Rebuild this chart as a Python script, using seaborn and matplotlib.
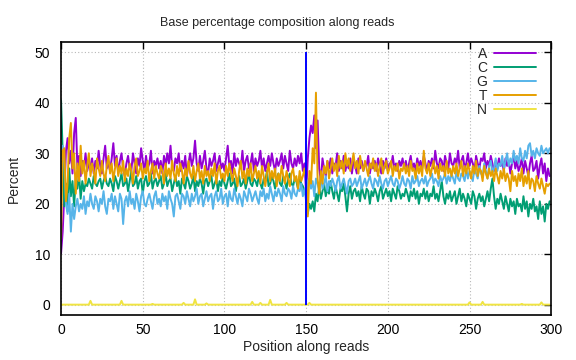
import numpy as np
import pandas as pd
import matplotlib
matplotlib.use("Agg")
import matplotlib.pyplot as plt
import seaborn as sns
from matplotlib.lines import Line2D

bases = ["A", "C", "G", "T", "N"]
colors = ["#9400d3", "#009e73", "#56b4e9", "#e69f00", "#f0e442"]

A = [10.2, 14.5, 22.0, 30.5, 33.0, 28.0, 30.5, 26.0, 34.0, 37.0, 27.0, 29.5, 25.5, 28.5, 27.0, 30.0, 26.5, 28.0, 27.5, 29.0, 26.0, 28.5, 27.0, 30.5, 27.5, 26.0, 29.0, 31.5, 27.0, 28.0,
     26.5, 29.0, 32.0, 27.5, 29.5, 26.0, 28.5, 30.0, 27.0, 25.5, 28.0, 29.5, 27.0, 26.5, 30.0, 28.0, 26.0, 29.0, 27.5, 31.0, 28.5, 26.5, 29.5, 27.0, 28.0, 30.5, 26.0, 28.5, 27.5, 29.0,
     27.0, 28.5, 26.0, 29.5, 27.5, 30.0, 28.0, 31.5, 27.0, 26.5, 29.0, 28.0, 30.0, 26.5, 28.5, 27.0, 29.5, 25.5, 28.0, 30.0, 27.5, 29.0, 32.5, 28.0, 26.5, 29.5, 27.0, 28.5, 30.5, 27.0,
     26.0, 29.0, 27.5, 28.5, 30.0, 26.5, 28.0, 29.5, 27.0, 28.0, 26.5, 29.0, 31.5, 27.5, 28.5, 26.0, 30.0, 27.5, 29.0, 28.0, 27.0, 30.5, 26.5, 28.5, 29.5, 27.0, 28.0, 30.0, 26.5, 29.0,
     27.5, 28.5, 30.5, 27.0, 29.0, 26.5, 28.0, 29.5, 27.5, 30.0, 28.0, 26.5, 29.0, 27.5, 28.5, 30.0, 27.0, 29.5, 28.0, 26.5, 30.5, 28.0, 27.0, 29.0, 27.5, 29.5, 28.0, 30.0, 26.5, 28.0,
     22.0, 29.0, 33.0, 35.5, 34.0, 37.5, 31.0, 36.5, 27.0, 24.5, 29.0, 27.0, 25.5, 28.5, 27.0, 29.0, 26.0, 28.0, 27.5, 30.0, 26.5, 28.5, 27.0, 29.5, 26.5, 28.0, 27.0, 29.0, 26.0, 28.5,
     27.5, 26.0, 29.0, 27.0, 28.5, 26.5, 28.0, 27.5, 29.5, 26.0, 28.0, 27.0, 28.5, 26.5, 29.0, 27.5, 26.0, 28.5, 27.0, 29.0, 26.5, 28.0, 27.5, 29.5, 27.0, 28.0, 26.5, 28.5, 27.5, 29.0,
     27.0, 28.5, 26.5, 28.0, 29.5, 27.0, 28.0, 26.5, 29.0, 27.5, 28.5, 27.0, 29.5, 28.0, 26.5, 28.5, 27.5, 29.0, 27.0, 30.5, 28.0, 27.0, 29.0, 28.5, 26.5, 29.5, 28.0, 27.0, 30.0, 28.0,
     27.5, 29.0, 28.0, 30.5, 27.0, 28.5, 29.5, 27.0, 28.0, 30.0, 27.5, 29.0, 28.0, 26.5, 29.5, 28.0, 27.0, 29.0, 28.5, 30.0, 27.0, 28.5, 27.5, 29.5, 28.0, 26.5, 28.5, 27.0, 29.0, 27.5,
     28.0, 26.5, 29.0, 27.5, 28.5, 26.0, 28.0, 29.5, 27.0, 28.5, 26.5, 27.5, 29.0, 26.0, 28.5, 27.0, 25.5, 28.0, 29.5, 26.5, 27.0, 28.5, 25.0, 27.5, 29.0, 26.0, 28.0, 24.5, 27.0, 25.5]

C = [40.5, 30.0, 19.5, 24.0, 18.5, 27.0, 21.5, 24.5, 19.5, 25.0, 23.0, 26.0, 21.0, 24.5, 22.5, 24.0, 23.5, 25.0, 24.0, 23.0, 25.5, 24.0, 23.5, 24.5, 25.0, 23.0, 24.5, 25.5, 24.0, 23.5,
     25.0, 24.0, 22.5, 25.5, 24.5, 23.0, 24.5, 26.0, 23.5, 24.0, 25.0, 22.5, 24.5, 26.5, 23.5, 24.0, 25.5, 23.0, 24.5, 25.0, 22.0, 24.5, 25.5, 23.5, 24.0, 26.0, 23.0, 24.5, 25.0, 23.5,
     24.5, 25.5, 23.0, 24.0, 26.0, 23.5, 24.5, 25.0, 22.5, 24.0, 25.5, 23.5, 24.5, 22.0, 25.0, 24.0, 23.0, 25.5, 24.5, 23.0, 24.0, 25.5, 22.5, 24.5, 23.5, 25.0, 24.0, 22.0, 24.5, 25.0,
     23.5, 24.5, 25.5, 23.0, 24.0, 25.0, 22.5, 24.5, 23.5, 25.5, 24.0, 23.0, 24.5, 26.0, 23.5, 24.0, 25.0, 22.5, 24.5, 25.5, 23.5, 24.0, 25.0, 23.0, 24.5, 26.0, 24.0, 23.5, 25.0, 24.5,
     23.5, 25.5, 24.0, 23.0, 25.0, 24.5, 26.5, 23.5, 24.0, 25.5, 24.5, 23.0, 25.0, 26.0, 24.0, 23.5, 25.5, 24.5, 23.0, 25.0, 26.0, 24.0, 23.5, 25.0, 24.5, 23.0, 25.5, 24.0, 23.5, 22.5,
     21.5, 18.0, 20.0, 19.0, 20.5, 18.5, 22.0, 20.5, 23.5, 21.0, 22.5, 24.0, 21.5, 23.0, 22.0, 24.5, 22.5, 21.0, 23.5, 22.0, 20.5, 23.0, 22.5, 24.0, 21.5, 18.5, 22.0, 23.5, 21.0, 22.5,
     23.0, 21.5, 22.5, 20.5, 23.5, 22.0, 21.0, 23.0, 22.5, 20.0, 22.5, 21.5, 23.0, 22.0, 20.5, 22.5, 23.5, 21.0, 22.0, 23.0, 21.5, 22.5, 20.5, 23.0, 22.0, 21.0, 23.5, 22.5, 21.0, 22.0,
     21.5, 23.0, 22.0, 20.5, 22.5, 21.5, 23.0, 21.0, 22.5, 20.0, 22.0, 21.5, 23.0, 21.0, 22.5, 20.5, 22.0, 21.5, 23.5, 21.0, 22.0, 20.5, 22.5, 24.5, 21.5, 20.0, 22.0, 21.0, 22.5, 20.5,
     21.5, 22.5, 20.0, 21.5, 23.0, 20.5, 22.0, 21.0, 19.5, 22.0, 21.0, 20.0, 22.5, 21.5, 19.0, 21.0, 22.0, 20.5, 21.5, 19.5, 21.0, 22.5, 20.5, 23.0, 25.0, 21.5, 19.0, 21.0, 20.0, 22.0,
     20.5, 19.0, 21.5, 20.0, 18.5, 21.0, 19.5, 20.5, 18.0, 21.0, 19.5, 20.0, 18.5, 21.5, 19.0, 20.5, 17.5, 20.0, 19.0, 21.0, 18.5, 19.5, 17.0, 20.5, 18.0, 19.5, 16.5, 20.0, 19.0, 20.5]

G = [31.0, 31.5, 28.0, 20.0, 18.0, 22.0, 14.5, 20.0, 17.0, 19.5, 21.0, 18.5, 20.0, 19.0, 21.5, 18.0, 20.5, 19.5, 22.0, 20.0, 19.0, 21.5, 20.5, 18.5, 21.0, 20.0, 22.5, 19.5, 18.0, 21.0,
     20.5, 22.0, 19.0, 21.5, 20.0, 18.5, 22.0, 21.0, 16.0, 20.5, 21.5, 19.5, 22.5, 20.0, 21.0, 19.0, 22.0, 20.5, 18.5, 21.5, 22.5, 20.0, 19.5, 21.0, 22.0, 20.5, 19.0, 21.5, 22.5, 20.0,
     21.0, 19.5, 22.0, 20.5, 21.5, 19.0, 22.5, 21.0, 20.0, 17.5, 21.5, 22.0, 20.5, 19.0, 22.0, 21.5, 20.0, 22.5, 21.0, 19.5, 22.0, 20.5, 21.5, 23.0, 20.0, 21.5, 22.0, 19.5, 21.0, 22.5,
     20.5, 21.5, 22.0, 19.0, 21.5, 22.5, 20.5, 21.0, 23.0, 20.0, 21.5, 22.0, 19.5, 22.5, 21.0, 20.5, 23.0, 21.5, 20.0, 22.0, 21.0, 19.5, 22.5, 21.5, 20.5, 23.0, 22.0, 20.5, 21.5, 22.5,
     21.0, 20.0, 22.5, 21.5, 23.0, 20.5, 22.0, 21.0, 23.5, 22.0, 20.5, 22.5, 21.5, 23.0, 22.0, 20.5, 23.5, 22.0, 21.5, 23.0, 22.5, 21.0, 23.5, 22.0, 21.5, 23.0, 22.5, 24.0, 21.5, 23.0,
     20.5, 24.5, 25.0, 23.0, 24.5, 21.5, 25.0, 24.0, 22.5, 25.5, 23.0, 24.0, 25.5, 22.5, 24.5, 23.5, 25.0, 24.0, 22.5, 24.5, 25.5, 23.0, 24.0, 25.0, 23.5, 22.0, 24.5, 25.0, 23.5, 24.0,
     25.0, 23.5, 24.5, 25.5, 23.0, 24.0, 25.0, 23.5, 24.5, 25.5, 24.0, 23.0, 25.0, 24.5, 23.5, 25.5, 24.0, 23.0, 24.5, 25.0, 23.5, 24.5, 25.5, 24.0, 23.5, 25.0, 24.5, 23.0, 24.0, 25.5,
     24.0, 23.5, 25.0, 24.5, 23.0, 25.5, 24.0, 24.5, 25.5, 23.5, 24.5, 25.0, 24.0, 25.5, 23.5, 24.5, 25.0, 26.0, 24.0, 25.0, 24.5, 23.5, 25.5, 24.5, 25.0, 26.0, 24.0, 25.5, 24.5, 26.0,
     25.0, 24.0, 26.5, 25.0, 24.5, 26.0, 25.5, 24.5, 27.0, 25.0, 26.5, 25.5, 24.5, 27.0, 26.0, 25.0, 27.5, 26.0, 25.5, 28.0, 26.5, 25.0, 27.5, 28.5, 26.0, 27.0, 29.0, 26.5, 28.0, 27.5,
     29.5, 27.0, 28.5, 30.0, 27.5, 29.0, 28.0, 30.5, 28.5, 29.5, 28.0, 31.0, 29.0, 28.5, 30.5, 29.0, 31.5, 32.0, 29.5, 30.5, 29.0, 31.0, 30.0, 29.5, 31.5, 30.0, 30.5, 31.0, 30.0, 31.0]

T = [13.0, 30.5, 31.0, 20.5, 24.0, 33.0, 36.0, 27.0, 30.0, 22.0, 28.0, 24.5, 31.5, 26.0, 28.5, 24.0, 27.5, 30.0, 25.5, 28.0, 26.5, 24.0, 29.0, 27.0, 25.5, 28.5, 26.0, 24.5, 27.5, 29.5,
     26.0, 28.0, 24.5, 27.0, 29.0, 25.5, 27.5, 26.0, 28.5, 24.5, 27.0, 25.5, 28.0, 26.5, 24.0, 27.5, 29.0, 25.5, 26.5, 28.0, 25.0, 27.0, 26.0, 28.5, 24.5, 26.5, 28.0, 25.0, 27.5, 26.0,
     25.0, 27.5, 26.5, 24.0, 28.0, 25.5, 27.0, 25.0, 28.5, 26.0, 24.5, 27.5, 25.5, 28.0, 26.5, 24.0, 27.0, 25.5, 28.5, 26.0, 25.0, 27.5, 24.5, 26.5, 28.0, 25.0, 26.5, 24.0, 27.5, 25.5,
     26.5, 24.5, 27.0, 25.5, 28.0, 24.0, 26.5, 27.5, 25.0, 26.0, 24.5, 27.5, 25.5, 28.0, 26.0, 24.5, 27.0, 25.5, 23.5, 26.5, 28.5, 25.0, 26.5, 24.0, 27.0, 25.5, 28.0, 24.5, 26.0, 27.5,
     25.0, 26.5, 24.0, 27.5, 25.5, 23.5, 26.0, 28.0, 24.5, 26.5, 25.0, 27.0, 23.5, 26.0, 24.5, 27.5, 25.5, 24.0, 26.5, 25.0, 23.5, 26.0, 27.0, 24.5, 25.5, 23.0, 26.5, 24.5, 25.5, 27.0,
     25.0, 17.5, 26.5, 24.0, 31.0, 28.0, 42.0, 25.0, 22.0, 26.5, 24.0, 27.5, 26.0, 28.5, 25.0, 27.0, 29.0, 26.5, 28.0, 25.5, 29.5, 27.0, 28.5, 26.0, 30.0, 27.5, 29.0, 26.5, 28.0, 30.0,
     27.0, 28.5, 26.0, 29.5, 27.5, 26.5, 28.5, 27.0, 25.5, 28.0, 27.0, 29.0, 26.5, 28.0, 25.5, 27.5, 29.0, 26.0, 27.5, 28.5, 26.0, 27.0, 28.5, 25.5, 27.5, 26.5, 28.0, 25.0, 27.0, 26.5,
     28.0, 26.0, 27.5, 25.5, 28.5, 26.5, 27.0, 25.0, 28.0, 26.0, 27.5, 25.5, 30.5, 27.0, 26.0, 28.0, 25.5, 27.0, 28.5, 26.0, 27.5, 25.0, 28.0, 26.5, 27.5, 25.5, 28.5, 26.0, 27.0, 25.5,
     27.5, 26.0, 28.0, 25.5, 27.0, 28.5, 25.5, 27.5, 26.0, 28.0, 26.5, 25.0, 27.5, 26.0, 28.5, 25.5, 27.0, 26.5, 24.5, 27.5, 26.0, 25.0, 27.0, 25.5, 26.5, 24.5, 27.0, 25.5, 24.0, 26.5,
     25.0, 27.0, 24.5, 26.0, 25.0, 22.5, 26.5, 24.5, 25.5, 23.5, 26.0, 24.5, 27.0, 23.5, 25.5, 24.0, 26.5, 23.0, 25.0, 24.5, 22.5, 25.5, 24.0, 23.0, 25.0, 23.5, 22.0, 24.0, 23.5, 24.0]

# N: near zero with a few small spikes (position -> percent)
N_spike_pos = [18, 37, 56, 75, 82, 89, 117, 122, 128, 138, 152, 250, 258, 282, 294]
N_spike_val = [0.8, 0.8, 0.2, 0.4, 1.1, 0.3, 0.6, 0.4, 1.0, 0.4, 0.4, 0.5, 0.6, 0.2, 0.5]
N_base = 0.05

positions = list(range(len(A)))
N = [N_base] * len(A)
for p, v in zip(N_spike_pos, N_spike_val):
    N[p] = v

marker_x = 150
marker_ymin, marker_ymax = 0, 50

rows = []
for b, vals in zip(bases, [A, C, G, T, N]):
    for p, v in zip(positions, vals):
        rows.append({"pos": p, "pct": v, "base": b})
df = pd.DataFrame(rows)

sns.set_style("white")
plt.rcParams["font.family"] = ["Liberation Sans", "DejaVu Sans"]
plt.rcParams["font.size"] = 10

fig = plt.figure(figsize=(5.76, 3.6), dpi=100)
ax = fig.add_axes([0.106, 0.125, 0.851, 0.758])

sns.lineplot(data=df, x="pos", y="pct", hue="base", hue_order=bases,
             palette=dict(zip(bases, colors)), linewidth=1.4, ax=ax,
             legend=False, estimator=None, sort=False)
ax.vlines(marker_x, marker_ymin, marker_ymax, color="#0000ff", linewidth=1.4, zorder=3)

ax.set_xlim(0, 300)
ax.set_ylim(-2, 52)
ax.set_xticks(range(0, 301, 50))
ax.set_yticks(range(0, 51, 10))
ax.grid(True, color="#b8b8b8", linestyle=(0, (1, 2)), linewidth=0.8)
ax.tick_params(direction="in", length=5, width=1, top=True, right=True,
               labelsize=10, colors="black")
ax.tick_params(axis="y", pad=8)
ax.tick_params(axis="x", pad=6)
for s in ax.spines.values():
    s.set_color("black")
    s.set_linewidth(1.2)
ax.set_xlabel("Position along reads", fontsize=10, labelpad=2)
ax.set_ylabel("Percent", fontsize=10, labelpad=10)
fig.text(0.482, 0.935, "Base percentage composition along reads", fontsize=9,
         ha="center", va="center")

handles = [Line2D([0], [0], color=c, lw=1.4) for c in colors]
leg = ax.legend(handles, bases, loc="upper right", frameon=False, markerfirst=False,
                handlelength=3.0, handletextpad=0.5, labelspacing=0.0,
                fontsize=10, borderaxespad=0.2, bbox_to_anchor=(0.985, 1.012))

fig.savefig("out.png", dpi=100)
